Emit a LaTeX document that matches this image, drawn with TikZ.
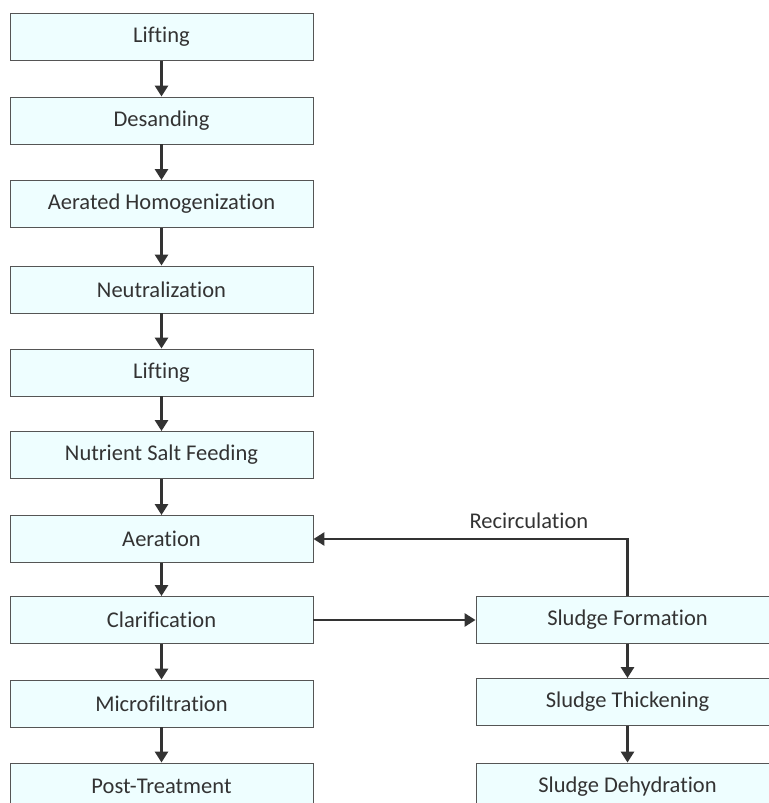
\documentclass[tikz,border=0pt]{standalone}
\usepackage{fontspec}
\setmainfont{Carlito}[Ligatures=CommonOff]
\usetikzlibrary{arrows.meta}
\definecolor{boxfill}{HTML}{EEFEFF}
\definecolor{boxline}{HTML}{555555}
\definecolor{arrowcol}{HTML}{333333}
\definecolor{textcol}{HTML}{333333}
\tikzset{
  stepbox/.style={draw=boxline, line width=0.9bp, fill=boxfill, rectangle,
    minimum width=303bp, minimum height=47bp, inner sep=0pt,
    text=textcol, font=\fontsize{22.5bp}{26bp}\selectfont},
  flow/.style={draw=arrowcol, line width=2.8bp, -{Triangle[length=11bp,width=13bp]}},
  lbl/.style={text=textcol, font=\fontsize{22.5bp}{26bp}\selectfont, inner sep=0pt}
}
\begin{document}
\begin{tikzpicture}[x=1bp,y=-1bp]
\useasboundingbox (0,0) rectangle (769,803);
\clip (0,0) rectangle (769,803);
\node[stepbox] (n1) at (161.5,37) {Lifting};
\node[stepbox] (n2) at (161.5,120.5) {Desanding};
\node[stepbox] (n3) at (161.5,204) {Aerated Homogenization};
\node[stepbox] (n4) at (161.5,289.5) {Neutralization};
\node[stepbox] (n5) at (161.5,372.5) {Lifting};
\node[stepbox] (n6) at (161.5,455) {Nutrient Salt Feeding};
\node[stepbox] (n7) at (161.5,539) {Aeration};
\node[stepbox] (n8) at (161.5,620) {Clarification};
\node[stepbox] (n9) at (161.5,703.5) {Microfiltration};
\node[stepbox] (n10) at (161.5,786.5) {Post-Treatment};
\node[stepbox] (s1) at (627.5,620) {Sludge Formation};
\node[stepbox] (s2) at (627.5,702) {Sludge Thickening};
\node[stepbox] (s3) at (627.5,786.5) {Sludge Dehydration};
\draw[flow] (n1) -- (n2);
\draw[flow] (n2) -- (n3);
\draw[flow] (n3) -- (n4);
\draw[flow] (n4) -- (n5);
\draw[flow] (n5) -- (n6);
\draw[flow] (n6) -- (n7);
\draw[flow] (n7) -- (n8);
\draw[flow] (n8) -- (n9);
\draw[flow] (n9) -- (n10);
\draw[flow] (n8) -- (s1);
\draw[flow] (s1) -- (s2);
\draw[flow] (s2) -- (s3);
\draw[flow] (s1.north) |- (n7.east) node[lbl, pos=0.657, above=9bp] (rl) {Recirculation};
\end{tikzpicture}
\end{document}
